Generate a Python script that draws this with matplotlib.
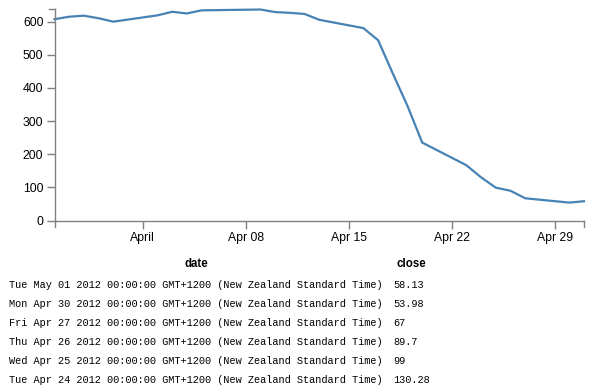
import matplotlib
matplotlib.use("Agg")
import matplotlib.pyplot as plt
import numpy as np
import datetime as dt

dates = ["2012-05-01", "2012-04-30", "2012-04-27", "2012-04-26", "2012-04-25",
         "2012-04-24", "2012-04-23", "2012-04-20", "2012-04-19", "2012-04-18",
         "2012-04-17", "2012-04-16", "2012-04-13", "2012-04-12", "2012-04-11",
         "2012-04-10", "2012-04-09", "2012-04-05", "2012-04-04", "2012-04-03",
         "2012-04-02", "2012-03-30", "2012-03-29", "2012-03-28", "2012-03-27",
         "2012-03-26"]
close = [58.13, 53.98, 67.00, 89.70, 99.00, 130.28, 166.70, 234.98, 345.44,
         443.34, 543.70, 580.13, 605.23, 622.77, 626.20, 628.44, 636.23, 633.68,
         624.31, 629.32, 618.63, 599.55, 609.86, 617.62, 614.48, 606.98]
y_ticks = [0, 100, 200, 300, 400, 500, 600]
x_tick_dates = ["2012-04-01", "2012-04-08", "2012-04-15", "2012-04-22", "2012-04-29"]
x_tick_labels = ["April", "Apr 08", "Apr 15", "Apr 22", "Apr 29"]
table_rows = 6
headers = ["date", "close"]

d = [dt.datetime.strptime(s, "%Y-%m-%d") for s in dates]
order = np.argsort(d)
ds = [d[i] for i in order]
cs = [close[i] for i in order]

W, H = 596, 391
fig = plt.figure(figsize=(W / 100, H / 100), dpi=100)
L, R, T, B = 54.5, 584, 9.5, 220.5
ax = fig.add_axes([L / W, 1 - B / H, (R - L) / W, (B - T) / H])
ax.plot(ds, cs, color="#4682b4", lw=1.6, solid_joinstyle="round", clip_on=False)
ax.set_xlim(min(d), max(d))
ax.set_ylim(0, max(close))

gray = "#808080"
for s in ["top", "right"]:
    ax.spines[s].set_visible(False)
for s in ["left", "bottom"]:
    ax.spines[s].set_color(gray)
    ax.spines[s].set_linewidth(1)

tick_font = dict(family="Liberation Sans", size=8.8)
ax.set_yticks(y_ticks)
ax.set_yticklabels([str(v) for v in y_ticks], **tick_font)
xt = [dt.datetime.strptime(s, "%Y-%m-%d") for s in x_tick_dates]
ax.set_xticks(xt)
ax.set_xticklabels(x_tick_labels, **tick_font)
ax.tick_params(axis="both", color=gray, length=6, width=1, pad=2, labelcolor="black")

# outer ticks at domain ends
trans_x = ax.get_xaxis_transform()
trans_y = ax.get_yaxis_transform()
ext = 6 / (B - T)
ax.plot([min(d), min(d)], [0, -ext], transform=trans_x, color=gray, lw=1, clip_on=False)
ax.plot([max(d), max(d)], [0, -ext], transform=trans_x, color=gray, lw=1, clip_on=False)
extx = 6 / (R - L)
ax.plot([0, -extx], [max(close), max(close)], transform=trans_y, color=gray, lw=1, clip_on=False)

# table
def fmt_num(v):
    return ("%f" % v).rstrip("0").rstrip(".")

fig.text(196 / W, 1 - 264 / H, headers[0], ha="center", va="center",
         family="Liberation Sans", weight="bold", size=8.3)
fig.text(411 / W, 1 - 264 / H, headers[1], ha="center", va="center",
         family="Liberation Sans", weight="bold", size=8.3)
for i in range(table_rows):
    y = 285 + i * 19
    ds_i = d[i].strftime("%a %b %d %Y 00:00:00 GMT+1200 (New Zealand Standard Time)")
    fig.text(9 / W, 1 - y / H, ds_i, ha="left", va="center",
             family="Liberation Mono", size=7.4)
    fig.text(393 / W, 1 - y / H, fmt_num(close[i]), ha="left", va="center",
             family="Liberation Mono", size=7.4)

fig.savefig("out.png", dpi=100)
